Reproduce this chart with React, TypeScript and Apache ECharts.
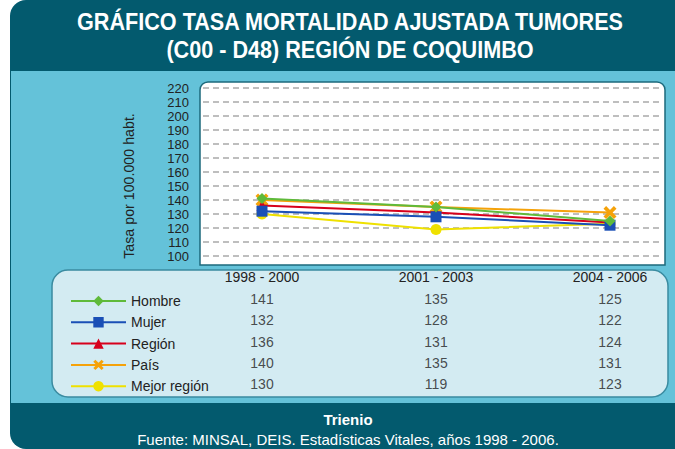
import React, { useEffect, useRef } from "react";
import * as echarts from "echarts";

const periods = ["1998 - 2000", "2001 - 2003", "2004 - 2006"];
const seriesNames = ["Hombre", "Mujer", "Región", "País", "Mejor región"];
const hombre = [141, 135, 125];
const mujer = [132, 128, 122];
const region = [136, 131, 124];
const pais = [140, 135, 131];
const mejorRegion = [130, 119, 123];
const yTicks = [100, 110, 120, 130, 140, 150, 160, 170, 180, 190, 200, 210, 220];

const FONT = "'Liberation Sans Narrow', 'Arial Narrow', 'Liberation Sans', Arial, sans-serif";
const colors = ["#5fba3a", "#1a4fb6", "#d7001c", "#f5a20a", "#efe100"];
const symbols = [
  "diamond",
  "rect",
  "triangle",
  "path://M2,0 L5,3 L8,0 L10,2 L7,5 L10,8 L8,10 L5,7 L2,10 L0,8 L3,5 L0,2 Z",
  "circle",
];

export default function App() {
  const ref = useRef<HTMLDivElement>(null);
  useEffect(() => {
    if (!ref.current) return;
    const chart = echarts.init(ref.current, undefined, { renderer: "svg" });
    const values = [hombre, mujer, region, pais, mejorRegion];
    const tableData: any[] = [];
    values.forEach((row, r) => row.forEach((v, c) => tableData.push({ value: [c, r, v] })));

    const lineSeries = seriesNames.map((name, i) => ({
      name,
      type: "line",
      xAxisIndex: 1,
      yAxisIndex: 1,
      data: values[i],
      symbol: symbols[i],
      symbolSize: i === 3 ? 13 : 11,
      itemStyle: { color: colors[i] },
      lineStyle: { color: colors[i], width: 2 },
      z: 10 - i,
    }));

    chart.setOption({
      animation: false,
      textStyle: { fontFamily: FONT },
      graphic: [
        { type: "rect", z: -10, shape: { x: 10, y: 0, width: 700, height: 449, r: 16 }, style: { fill: "#035a6e" } },
        { type: "rect", z: -9, shape: { x: 11, y: 71, width: 680, height: 332 }, style: { fill: "#64c2d9" } },
        { type: "rect", z: -8, shape: { x: 200, y: 82, width: 465, height: 183, r: [8, 8, 0, 0] }, style: { fill: "#ffffff", stroke: "#1d6a7c", lineWidth: 1.5 } },
        { type: "rect", z: -8, shape: { x: 52, y: 270, width: 616, height: 127, r: 16 }, style: { fill: "#d3ebf2", stroke: "#3a8ba0", lineWidth: 1.5 } },
        { type: "text", z: 5, x: 350, y: 22, scaleX: 0.9, style: { text: "GRÁFICO TASA MORTALIDAD AJUSTADA TUMORES", fill: "#ffffff", font: `bold 24px ${FONT}`, align: "center", verticalAlign: "middle" } },
        { type: "text", z: 5, x: 350, y: 50, scaleX: 0.9, style: { text: "(C00 - D48) REGIÓN DE COQUIMBO", fill: "#ffffff", font: `bold 24px ${FONT}`, align: "center", verticalAlign: "middle" } },
        { type: "text", z: 5, x: 348, y: 419, style: { text: "Trienio", fill: "#ffffff", font: `bold 15px ${FONT}`, align: "center", verticalAlign: "middle" } },
        { type: "text", z: 5, x: 348, y: 439, style: { text: "Fuente: MINSAL, DEIS. Estadísticas Vitales, años 1998 - 2006.", fill: "#ffffff", font: `15px ${FONT}`, align: "center", verticalAlign: "middle" } },
        { type: "text", z: 5, x: 129, y: 186, rotation: Math.PI / 2, scaleX: 0.95, style: { text: "Tasa por 100.000 habt.", fill: "#222222", font: `15px ${FONT}`, align: "center", verticalAlign: "middle" } },
      ],
      legend: {
        orient: "vertical",
        left: 65,
        top: 289,
        itemWidth: 55,
        itemHeight: 13,
        itemGap: 7.3,
        data: seriesNames,
        textStyle: { fontFamily: FONT, fontSize: 14, color: "#222222" },
      },
      grid: [
        { left: 203, right: 12, top: 88, bottom: 193 },
        { left: 262, right: 65, top: 88, bottom: 193 },
        { left: 262, right: 65, top: 288, bottom: 54 },
      ],
      xAxis: [
        { type: "category", gridIndex: 0, data: periods, show: false },
        { type: "category", gridIndex: 1, data: periods, boundaryGap: false, show: false },
        {
          type: "category",
          gridIndex: 2,
          data: periods,
          boundaryGap: false,
          position: "top",
          axisLine: { show: false },
          axisTick: { show: false },
          axisLabel: { fontFamily: FONT, fontSize: 14, fontWeight: "normal", color: "#222222", margin: 4 },
        },
      ],
      yAxis: [
        {
          type: "value",
          gridIndex: 0,
          min: 100,
          max: 220,
          interval: 10,
          axisLine: { show: false },
          axisTick: { show: false },
          axisLabel: { fontFamily: FONT, fontSize: 13, color: "#222222", margin: 14, formatter: (v: number) => (yTicks.includes(v) ? String(v) : "") },
          splitLine: { show: true, lineStyle: { color: "#a9a9a9", width: 1.5, type: [6, 4] } },
        },
        { type: "value", gridIndex: 1, min: 100, max: 220, interval: 10, show: false, splitLine: { show: false } },
        { type: "category", gridIndex: 2, data: seriesNames, inverse: true, show: false },
      ],
      series: [
        ...lineSeries,
        {
          type: "scatter",
          xAxisIndex: 2,
          yAxisIndex: 2,
          data: tableData,
          symbolSize: 1,
          itemStyle: { color: "transparent" },
          label: {
            show: true,
            position: "inside",
            formatter: (p: any) => String(p.value[2]),
            fontFamily: FONT,
            fontSize: 14,
            color: "#222222",
          },
          silent: true,
        },
      ],
    });
    return () => chart.dispose();
  }, []);
  return <div ref={ref} style={{ width: 675, height: 449, position: "absolute", left: 0, top: 0 }} />;
}
